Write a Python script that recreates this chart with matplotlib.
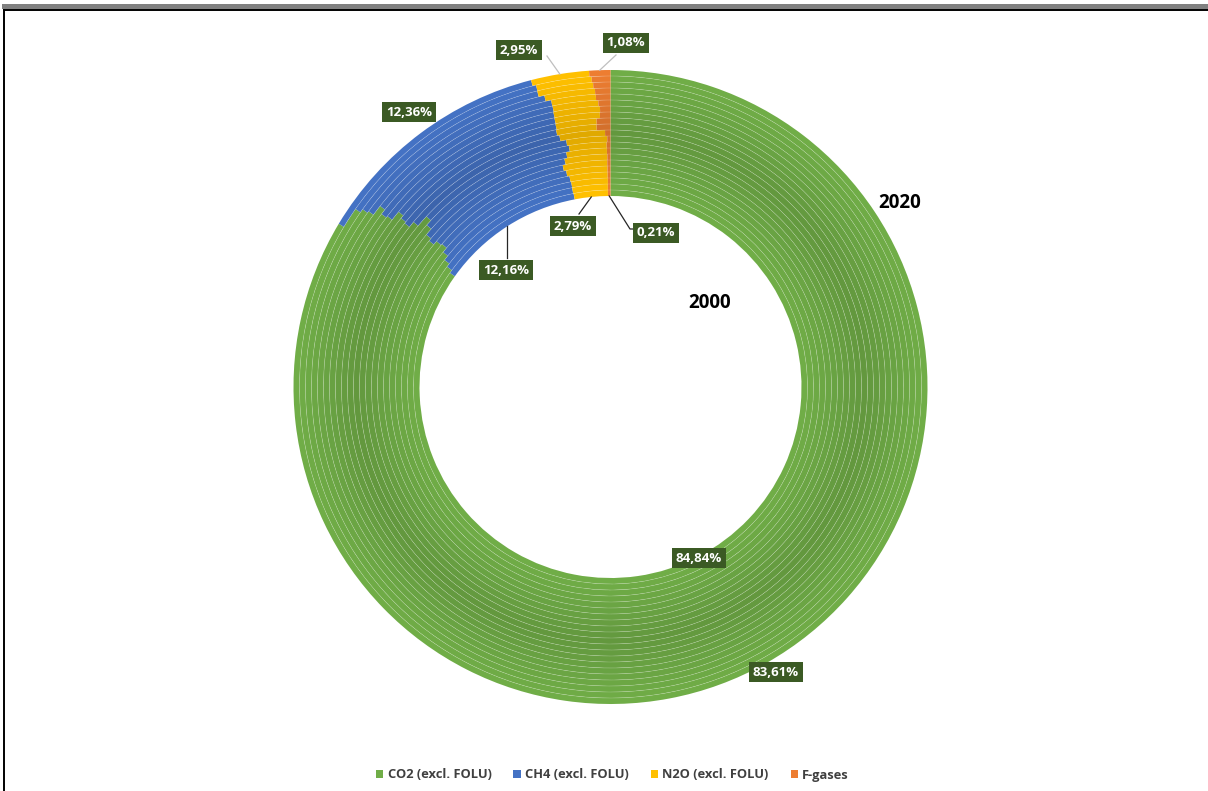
"""
Donut multi-anneaux : parts des gaz (excl. FOLU), 2000 (centre) -> 2020 (exterieur).
"""

import numpy as np
import matplotlib
matplotlib.use("Agg")
import matplotlib.pyplot as plt
from matplotlib.patches import Patch, Circle, Rectangle
from matplotlib.colors import to_rgb


# ============================== Data

YEARS = [2000, 2001, 2002, 2003, 2004, 2005, 2006, 2007, 2008, 2009, 2010,
         2011, 2012, 2013, 2014, 2015, 2016, 2017, 2018, 2019, 2020]

GASES = ["CO2 (excl. FOLU)", "CH4 (excl. FOLU)", "N2O (excl. FOLU)", "F-gases"]

CO2 = [84.84, 85.10, 85.40, 85.80, 86.20, 86.10, 85.80, 86.00, 86.50, 86.90, 86.10,
       85.70, 85.80, 86.00, 85.40, 85.30, 85.60, 85.00, 84.90, 84.70, 83.61]
CH4 = [12.16, 11.87, 11.58, 11.14, 10.58, 10.52, 11.03, 11.03, 10.78, 10.27, 10.71,
       10.98, 10.92, 10.73, 11.34, 11.46, 11.15, 11.45, 11.24, 11.45, 12.36]
N2O = [2.79, 2.82, 2.82, 2.85, 3.00, 3.15, 2.95, 2.73, 2.47, 2.62, 2.85,
       2.47, 2.45, 2.65, 2.66, 2.56, 2.45, 2.72, 2.95, 2.88, 2.95]
FGAS = [0.21, 0.21, 0.20, 0.21, 0.22, 0.23, 0.22, 0.24, 0.25, 0.21, 0.34,
        0.85, 0.83, 0.62, 0.60, 0.68, 0.80, 0.83, 0.91, 0.97, 1.08]

# ============================== Style

COLORS = ["#70AD47", "#4472C4", "#FFC000", "#ED7D31"]
LABEL_BG = "#3B5A24"

W_PX, H_PX = 1208, 791
CX, CY = 610.5, 387.0        # centre du donut (px)
R_OUT_PX = 317.0
R_IN = 191.0 / R_OUT_PX      # rayon du trou (unites donnees)

# positions des etiquettes (px) : (annee, gaz) -> (x, y)
LABEL_POS = {
    (2020, 0): (776, 672), (2020, 1): (409, 112),
    (2020, 2): (519, 50), (2020, 3): (626, 43),
    (2000, 0): (699, 558), (2000, 1): (506, 270),
    (2000, 2): (573, 226), (2000, 3): (656, 233),
}

plt.rcParams["font.family"] = ["Open Sans", "DejaVu Sans"]


def px(x, y):
    return (x - CX) / R_OUT_PX, (CY - y) / R_OUT_PX


def shade(color, t):
    # anneaux du milieu un peu plus sombres
    k = 1.0 - 0.12 * (1.0 - abs(2 * t - 1))
    return tuple(min(1.0, c * k) for c in to_rgb(color))


def main():
    fig = plt.figure(figsize=(W_PX / 100, H_PX / 100), dpi=100)
    ax = fig.add_axes([0, 0, 1, 1])
    ax.axis("off")

    series = np.array([CO2, CH4, N2O, FGAS])  # (4, n_years)
    n = len(YEARS)
    w = (1.0 - R_IN) / n

    # ------------------------- anneaux
    for i in range(n):
        t = i / (n - 1)
        ax.pie(series[:, i], radius=R_IN + (i + 1) * w, startangle=90,
               counterclock=False, colors=[shade(c, t) for c in COLORS],
               wedgeprops=dict(width=w, linewidth=0))
    for i in range(1, n):
        ax.add_patch(Circle((0, 0), R_IN + i * w, fill=False, ec="white",
                            lw=0.4, alpha=0.3))
    ax.set_xlim(-CX / R_OUT_PX, (W_PX - CX) / R_OUT_PX)
    ax.set_ylim(-(H_PX - CY) / R_OUT_PX, CY / R_OUT_PX)
    ax.set_aspect("auto")

    # ------------------------- etiquettes + lignes de rappel
    for (year, g), (lx, ly) in LABEL_POS.items():
        i = YEARS.index(year)
        vals = series[:, i]
        cum = np.cumsum(vals) / vals.sum()
        mid = (cum[g] - vals[g] / vals.sum() / 2) * 2 * np.pi
        r_anchor = 1.0 if year == 2020 else R_IN
        ax_, ay_ = r_anchor * np.sin(mid), r_anchor * np.cos(mid)

        x0, y0 = px(lx, ly)
        txt = f"{vals[g]:.2f}".replace(".", ",") + "%"
        ax.text(x0, y0, txt, ha="center", va="center", color="white",
                fontsize=9.5, fontweight="bold",
                bbox=dict(boxstyle="square,pad=0.3", fc=LABEL_BG, ec="none"))

        if (year, g) == (2020, 2):
            ax.plot([ax_, px(547, 56)[0]], [ay_, px(547, 56)[1]], color="#BFBFBF", lw=0.9)
        elif (year, g) == (2020, 3):
            ax.plot([ax_, px(616, 55)[0]], [ay_, px(616, 55)[1]], color="#BFBFBF", lw=0.9)
        elif (year, g) == (2000, 1):
            ax.plot([ax_, ax_], [ay_, px(0, 258)[1]], color="#262626", lw=0.9)
        elif (year, g) == (2000, 2):
            ax.plot([ax_, px(579, 214)[0]], [ay_, px(579, 214)[1]], color="#262626", lw=0.9)
        elif (year, g) == (2000, 3):
            p1, p2 = px(630, 229), px(634, 229)
            ax.plot([ax_, p1[0], p2[0]], [ay_, p1[1], p2[1]], color="#262626", lw=0.9)

    # ------------------------- annees
    ax.text(*px(900, 203), str(YEARS[-1]), ha="center", va="center",
            fontsize=13.5, fontweight="bold", color="black")
    ax.text(*px(710, 303), str(YEARS[0]), ha="center", va="center",
            fontsize=13.5, fontweight="bold", color="black")

    # ------------------------- legende
    handles = [Patch(facecolor=c, edgecolor="none") for c in COLORS]
    leg = fig.legend(handles, GASES, loc="center", bbox_to_anchor=(0.507, 1 - 775 / H_PX),
                     ncol=4, frameon=False, handlelength=0.55, handleheight=0.55,
                     handletextpad=0.35, columnspacing=1.7,
                     prop={"weight": "bold", "size": 9.3})
    for t in leg.get_texts():
        t.set_color("#404040")

    # ------------------------- cadre (capture)
    fig.add_artist(Rectangle((2 / W_PX, 1 - 8.5 / H_PX), 1, 4.5 / H_PX,
                             transform=fig.transFigure, fc="#808080", ec="none"))
    fig.add_artist(plt.Line2D([3.5 / W_PX, 1], [1 - 9.8 / H_PX] * 2,
                              transform=fig.transFigure, color="black", lw=1.4))
    fig.add_artist(plt.Line2D([3.5 / W_PX] * 2, [0, 1 - 9.8 / H_PX],
                              transform=fig.transFigure, color="black", lw=1.4))

    fig.savefig("out.png", dpi=100)
    plt.close(fig)


if __name__ == "__main__":
    main()
